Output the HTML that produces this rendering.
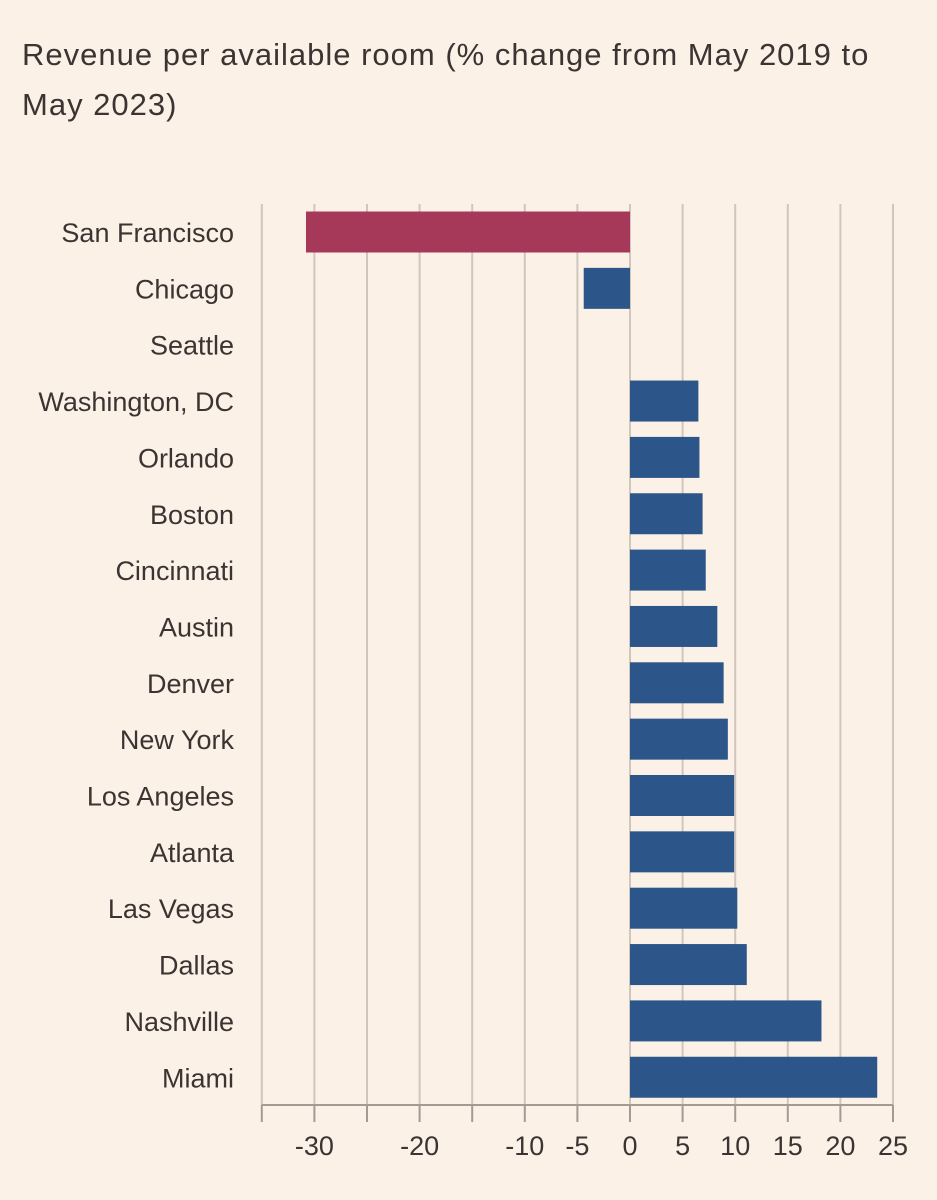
<!DOCTYPE html>
<html><head><meta charset="utf-8"><style>
html,body{margin:0;padding:0;background:#fcf1e7;}
body{width:937px;height:1200px;position:relative;overflow:hidden;font-family:"Liberation Sans",sans-serif;color:#3b3432;}
#title{position:absolute;left:22px;top:30px;width:870px;font-size:31px;line-height:50px;letter-spacing:1px;}
</style></head><body>
<div id="title">Revenue per available room (% change from May 2019 to<br>May 2023)</div>
<svg id="chart" width="937" height="1200" style="position:absolute;left:0;top:0"></svg>
<script>
const categories=["San Francisco","Chicago","Seattle","Washington, DC","Orlando","Boston","Cincinnati","Austin","Denver","New York","Los Angeles","Atlanta","Las Vegas","Dallas","Nashville","Miami"];
const values=[-30.8,-4.4,0,6.5,6.6,6.9,7.2,8.3,8.9,9.3,9.9,9.9,10.2,11.1,18.2,23.5];
const highlight=["San Francisco"];
const gridTicks=[-35,-30,-25,-20,-15,-10,-5,0,5,10,15,20,25];
const tickLabels=[-30,-20,-10,-5,0,5,10,15,20,25];
const NS="http://www.w3.org/2000/svg";
const svg=document.getElementById('chart');
const x=v=>630+(v)*(893-630)/25;
const y0=232,step=56.35,bh=41;
const y=i=>y0+i*step;
function mk(t,a){const e=document.createElementNS(NS,t);for(const k in a)e.setAttribute(k,a[k]);svg.appendChild(e);return e;}
gridTicks.forEach(t=>{
  const g=mk('line',{x1:x(t),x2:x(t),y1:204,y2:1105,stroke:'#cfc6bd','stroke-width':2});
  
  
  const tk=mk('line',{x1:x(t),x2:x(t),y1:1105,y2:1122,stroke:'#a39a93','stroke-width':2});
  
  
});
const ax=mk('line',{x1:x(-35),x2:x(25),y1:1105,y2:1105,stroke:'#a39a93','stroke-width':2});


tickLabels.forEach(t=>{
  const tx=mk('text',{x:x(t),y:1155,'text-anchor':'middle','font-size':27,fill:'#3b3432'});
  tx.textContent=String(t);
  
  
});
categories.forEach((c,i)=>{
  const v=values[i];
  if(v!==0){
    const r=mk('rect',{x:Math.min(x(v),x(0)),y:y(i)-bh/2,width:Math.abs(x(v)-x(0)),height:bh,fill:highlight.includes(c)?'#a6385a':'#2c5589'});
    
    
  }
  const l=mk('text',{x:234,y:y(i)+10,'text-anchor':'end','font-size':27,fill:'#3b3432'});
  l.textContent=c;
  
  
});
</script>
</body></html>
